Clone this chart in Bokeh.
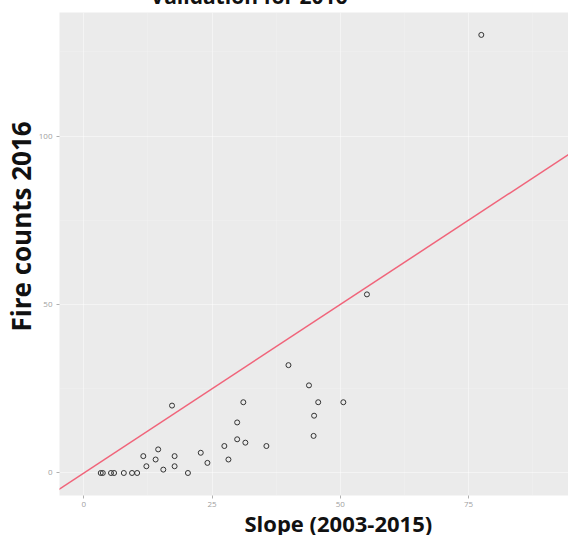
from bokeh.plotting import figure
from bokeh.models import Range1d, FixedTicker, Slope, ColumnDataSource, Title
from bokeh.embed import file_html
from bokeh.resources import INLINE

# Data
slope_2003_2015 = [3.3, 3.7, 5.3, 5.9, 7.8, 9.4, 10.4, 11.6, 12.2, 14.0, 14.5, 15.5,
                   17.2, 17.7, 17.7, 20.3, 22.8, 24.1, 27.4, 28.2, 29.9, 29.9, 31.1,
                   31.5, 35.6, 39.9, 43.9, 45.7, 44.9, 44.8, 50.6, 55.2, 77.5]
fire_counts_2016 = [0, 0, 0, 0, 0, 0, 0, 5, 2, 4, 7, 1, 20, 5, 2, 0, 6, 3, 8, 4, 10,
                    15, 21, 9, 8, 32, 26, 21, 17, 11, 21, 53, 130]
x_ticks = [0, 25, 50, 75]
x_minor = [12.5, 37.5, 62.5, 87.5]
y_ticks = [0, 50, 100]
y_minor = [25, 75, 125]
title_text = "Validation for 2016"
x_title = "Slope (2003-2015)"
y_title = "Fire counts 2016"

FONT = "Open Sans"

p = figure(width=568, height=535, output_backend="svg", toolbar_location=None,
           x_range=Range1d(-4.74, 94.5), y_range=Range1d(-6.68, 136.65),
           min_border_left=59, min_border_right=0, min_border_top=12,
           min_border_bottom=40)
p.background_fill_color = "#EBEBEB"
p.border_fill_color = "white"
p.outline_line_color = None

p.xaxis.ticker = FixedTicker(ticks=x_ticks, minor_ticks=x_minor)
p.yaxis.ticker = FixedTicker(ticks=y_ticks, minor_ticks=y_minor)
for ax in (p.xaxis, p.yaxis):
    ax.axis_line_color = None
    ax.major_tick_line_color = "#B0B0B0"
    ax.major_tick_out = 3
    ax.major_tick_in = 0
    ax.minor_tick_line_color = None
    ax.major_label_text_color = "#A0A0A0"
    ax.major_label_text_font_size = "8px"
    ax.major_label_text_font = FONT
p.xaxis.major_label_standoff = 2
p.yaxis.major_label_standoff = 3

p.xgrid.grid_line_color = "white"
p.ygrid.grid_line_color = "white"
p.xgrid.grid_line_alpha = 0.45
p.ygrid.grid_line_alpha = 0.45
p.xgrid.grid_line_width = 1.1
p.ygrid.grid_line_width = 1.1
p.xgrid.minor_grid_line_color = "white"
p.ygrid.minor_grid_line_color = "white"
p.xgrid.minor_grid_line_alpha = 0.25
p.ygrid.minor_grid_line_alpha = 0.25
p.xgrid.minor_grid_line_width = 0.6
p.ygrid.minor_grid_line_width = 0.6

# 1:1 line
p.add_layout(Slope(gradient=1, y_intercept=0, line_color="#F0647A", line_width=1.5))

src = ColumnDataSource(dict(x=slope_2003_2015, y=fire_counts_2016))
p.scatter("x", "y", source=src, size=5, marker="circle", fill_color=None,
          line_color="#333333", line_width=1)

# Axis titles
p.add_layout(Title(text=x_title, align="left", offset=185, standoff=-6,
                   vertical_align="middle",
                   text_font=FONT, text_font_style="bold", text_font_size="22px",
                   text_color="#111111"), "below")
p.add_layout(Title(text=y_title, align="left", offset=164, standoff=-9,
                   vertical_align="middle",
                   text_font=FONT, text_font_style="bold", text_font_size="26px",
                   text_color="#111111"), "left")

# Top title, cut off at the top edge as in the reference
p.add_layout(Title(text=title_text, align="left", offset=91, standoff=-62,
                   vertical_align="top",
                   text_font=FONT, text_font_style="bold", text_font_size="21px",
                   text_color="#111111"), "above")

open("out.html", "w").write(file_html(p, INLINE))
